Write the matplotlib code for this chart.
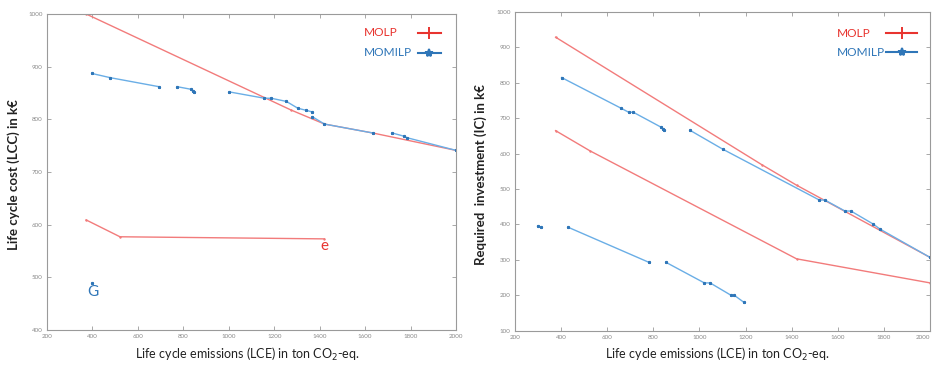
import matplotlib
matplotlib.use("Agg")
import matplotlib.pyplot as plt

plt.rcParams['font.family'] = ['Lato', 'DejaVu Sans']

# ---------------- Left chart data (LCE vs LCC) ----------------
lcc_molp_1_x = [372, 1272, 1421, 1634, 2000]
lcc_molp_1_y = [1000, 818, 791, 774, 741]
lcc_molp_2_x = [372, 521, 1421]
lcc_molp_2_y = [609, 577, 573]

lcc_milp_segments_x = [
    [398, 479, 692],
    [772, 834, 841, 846],
    [1003, 1157, 1187, 1253, 1304, 1341, 1367],
    [1367, 1421, 1634],
    [1720, 1770, 1785, 2000],
]
lcc_milp_segments_y = [
    [887, 879, 862],
    [862, 857, 854, 852],
    [852, 840, 840, 834, 821, 817, 814],
    [805, 791, 774],
    [774, 768, 765, 741],
]
lcc_milp_single_x = [400]
lcc_milp_single_y = [489]

# ---------------- Right chart data (LCE vs IC) ----------------
ic_molp_1_x = [376, 1270, 1421, 2000]
ic_molp_1_y = [929, 569, 511, 307]
ic_molp_2_x = [376, 525, 1421, 2000]
ic_molp_2_y = [665, 608, 303, 235]

ic_milp_segments_x = [
    [402, 658, 693, 713, 833, 840, 847],
    [959, 1100, 1520, 1544, 1631, 1657, 1754, 1783, 2000],
    [298, 313],
    [431, 781],
    [855, 1021, 1046, 1137, 1151, 1193],
]
ic_milp_segments_y = [
    [815, 729, 717, 717, 675, 670, 666],
    [666, 613, 469, 469, 438, 438, 401, 387, 307],
    [396, 392],
    [392, 293],
    [293, 235, 235, 200, 200, 180],
]

x_ticks = [200, 400, 600, 800, 1000, 1200, 1400, 1600, 1800, 2000]
lcc_ticks = [400, 500, 600, 700, 800, 900, 1000]
ic_ticks = [100, 200, 300, 400, 500, 600, 700, 800, 900, 1000]
legend_labels = ['MOLP', 'MOMILP']

RED_LINE = '#f27b7b'
BLUE_LINE = '#6aaee6'
RED_TXT = '#e8342f'
BLUE_TXT = '#2f76b8'
FRAME = '#9a9a9a'
XLABEL = 'Life cycle emissions (LCE) in ton CO$_2$-eq.'

fig = plt.figure(figsize=(9.33, 3.65), dpi=100)
axL = fig.add_axes([0.0504, 0.0959, 0.4384, 0.8658])
axR = fig.add_axes([0.552, 0.094, 0.4448, 0.873])


def style(ax, yticks, ylim):
    ax.set_xlim(200, 2000)
    ax.set_ylim(*ylim)
    ax.set_xticks(x_ticks)
    ax.set_yticks(yticks)
    ax.tick_params(direction='in', length=3, width=0.6, colors=FRAME,
                   labelsize=4.5, labelcolor='#8a8a8a', top=True, right=True, pad=3)
    for s in ax.spines.values():
        s.set_color(FRAME)
        s.set_linewidth(0.8)


def legend(ax, tx, lx0, lx1, ys):
    colors = [RED_TXT, BLUE_TXT]
    markers = ['+', '*']
    msz = [8, 6]
    for lab, c, m, ms, y in zip(legend_labels, colors, markers, msz, ys):
        ax.text(tx, y, lab, color=c, fontsize=8.6, ha='left', va='center',
                transform=ax.transAxes)
        ax.plot([lx0, lx1], [y, y], color=c, lw=1.5, transform=ax.transAxes,
                clip_on=False)
        ax.plot([(lx0 + lx1) / 2], [y], color=c, marker=m, markersize=ms,
                markeredgewidth=1.4, transform=ax.transAxes, clip_on=False)


# Left
style(axL, lcc_ticks, (400, 1000))
axL.plot(lcc_molp_1_x, lcc_molp_1_y, color=RED_LINE, lw=1.0, marker='+', markersize=2)
axL.plot(lcc_molp_2_x, lcc_molp_2_y, color=RED_LINE, lw=1.0, marker='+', markersize=2)
for xs, ys in zip(lcc_milp_segments_x, lcc_milp_segments_y):
    axL.plot(xs, ys, color=BLUE_LINE, lw=1.0, marker='*', markersize=2,
             markerfacecolor='#2f76b8', markeredgecolor='#2f76b8')
axL.plot(lcc_milp_single_x, lcc_milp_single_y, linestyle='none', marker='*', markersize=2,
         color='#2f76b8')
axL.text(1420, 560, 'e', color=RED_TXT, fontsize=11, ha='center', va='center')
axL.text(400, 472, 'G', color=BLUE_TXT, fontsize=11, ha='center', va='center')
legend(axL, 0.775, 0.907, 0.963, [0.94, 0.877])

# Right
style(axR, ic_ticks, (100, 1000))
axR.plot(ic_molp_1_x, ic_molp_1_y, color=RED_LINE, lw=1.0, marker='+', markersize=2)
axR.plot(ic_molp_2_x, ic_molp_2_y, color=RED_LINE, lw=1.0, marker='+', markersize=2)
for xs, ys in zip(ic_milp_segments_x, ic_milp_segments_y):
    axR.plot(xs, ys, color=BLUE_LINE, lw=1.0, marker='*', markersize=2,
             markerfacecolor='#2f76b8', markeredgecolor='#2f76b8')
legend(axR, 0.776, 0.894, 0.969, [0.934, 0.874])
axR.get_xticklabels()[-1].set_horizontalalignment('right')

# Axis labels placed as in the reference
fig.text(14 / 933, 0.522, 'Life cycle cost (LCC) in k€', rotation=90, fontsize=9.5,
         fontweight='bold', color='#222222', ha='center', va='center')
fig.text(481 / 933, 0.523, 'Required  investment (IC) in k€', rotation=90, fontsize=9.5,
         fontweight='bold', color='#222222', ha='center', va='center')
fig.text(247 / 933, 0.03, XLABEL, fontsize=9, color='#222222', ha='center', va='center')
fig.text(717 / 933, 0.03, XLABEL, fontsize=9, color='#222222', ha='center', va='center')

fig.savefig('out.png', dpi=100)
